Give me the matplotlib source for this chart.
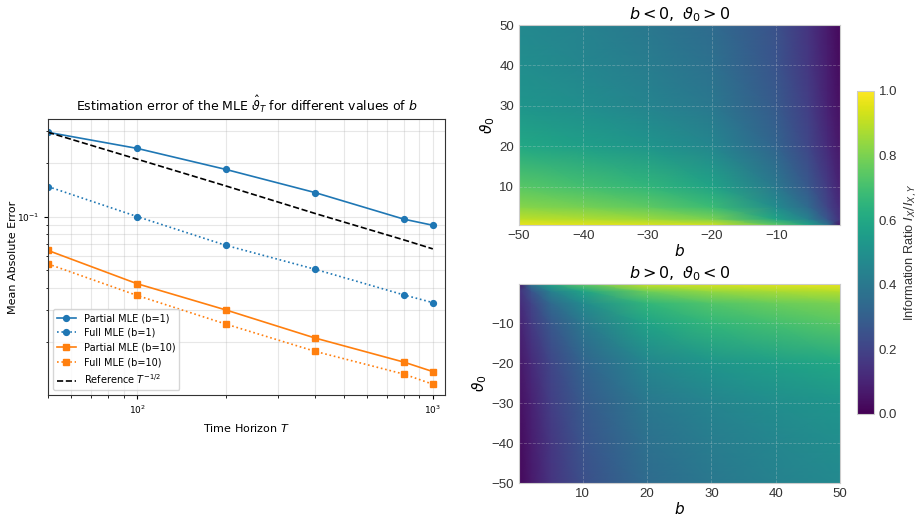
import numpy as np
import matplotlib
matplotlib.use("Agg")
import matplotlib.pyplot as plt

# ---- left panel: estimation error vs time horizon ----
T = [50, 100, 200, 400, 800, 1000]
partial_b1 = [0.295, 0.240, 0.183, 0.136, 0.0966, 0.0894]
full_b1 = [0.147, 0.100, 0.069, 0.0508, 0.0365, 0.0331]
partial_b10 = [0.0647, 0.0422, 0.0301, 0.0210, 0.0154, 0.01365]
full_b10 = [0.0544, 0.0363, 0.0251, 0.0177, 0.0132, 0.0116]
reference = [0.295, 0.209, 0.148, 0.104, 0.074, 0.066]

# ---- right panels: information ratio grids ----
b_neg = [-50, -40, -30, -20, -10, -5, -2, -0.1]
theta_pos = [0.5, 2, 5, 10, 20, 30, 40, 50]
ratio_top = [
    [0.97, 0.96, 0.95, 0.93, 0.75, 0.58, 0.38, 0.05],
    [0.90, 0.88, 0.85, 0.80, 0.58, 0.43, 0.26, 0.14],
    [0.82, 0.79, 0.75, 0.68, 0.48, 0.34, 0.20, 0.12],
    [0.74, 0.70, 0.66, 0.58, 0.40, 0.27, 0.17, 0.09],
    [0.60, 0.56, 0.52, 0.46, 0.32, 0.21, 0.12, 0.06],
    [0.52, 0.49, 0.45, 0.40, 0.28, 0.18, 0.09, 0.04],
    [0.49, 0.46, 0.42, 0.37, 0.26, 0.16, 0.08, 0.03],
    [0.47, 0.44, 0.40, 0.35, 0.25, 0.15, 0.07, 0.02],
]

b_pos = [0.1, 2, 5, 10, 20, 30, 40, 50]
theta_neg = [-50, -40, -30, -20, -10, -5, -2, -0.2]
ratio_bottom = [
    [0.02, 0.07, 0.15, 0.24, 0.35, 0.40, 0.44, 0.47],
    [0.03, 0.08, 0.16, 0.26, 0.37, 0.42, 0.46, 0.49],
    [0.04, 0.09, 0.18, 0.28, 0.40, 0.45, 0.49, 0.52],
    [0.06, 0.12, 0.21, 0.32, 0.46, 0.52, 0.56, 0.60],
    [0.09, 0.17, 0.27, 0.40, 0.58, 0.66, 0.70, 0.74],
    [0.12, 0.20, 0.34, 0.48, 0.66, 0.73, 0.77, 0.80],
    [0.14, 0.26, 0.43, 0.58, 0.78, 0.84, 0.87, 0.89],
    [0.05, 0.38, 0.58, 0.75, 0.93, 0.95, 0.96, 0.97],
]

fig = plt.figure(figsize=(9.18, 5.21), dpi=100)

# left plot
ax = fig.add_axes([0.0523, 0.2418, 0.4325, 0.5298])
ax.loglog(T, partial_b1, "-o", color="#1f77b4", lw=1.2, ms=4.2, label="Partial MLE (b=1)")
ax.loglog(T, full_b1, ":o", color="#1f77b4", lw=1.2, ms=4.2, label="Full MLE (b=1)")
ax.loglog(T, partial_b10, "-s", color="#ff7f0e", lw=1.2, ms=4.2, label="Partial MLE (b=10)")
ax.loglog(T, full_b10, ":s", color="#ff7f0e", lw=1.2, ms=4.2, label="Full MLE (b=10)")
ax.loglog(T, reference, "--", color="black", lw=1.2, label=r"Reference $T^{-1/2}$")
ax.set_xlim(50, 1100)
ax.set_ylim(0.0101, 0.35)
ax.grid(True, which="both", alpha=0.3)
ax.set_xlabel(r"Time Horizon $T$", fontsize=8)
ax.set_ylabel("Mean Absolute Error", fontsize=8)
ax.yaxis.set_label_coords(-0.076, 0.5)
ax.set_title(r"Estimation error of the MLE $\hat{\vartheta}_T$ for different values of $b$", fontsize=9)
ax.tick_params(which="major", labelsize=6.5, length=3)
ax.tick_params(which="minor", length=1.8)
for s in ax.spines.values():
    s.set_color("#333333")
ax.legend(loc="lower left", fontsize=7, frameon=True)


def style_heat(h):
    for s in h.spines.values():
        s.set_color("#cccccc")
    h.tick_params(length=0, labelsize=9.5, colors="#333333")
    for lab in h.get_xticklabels() + h.get_yticklabels():
        lab.set_family("Liberation Sans")
    h.grid(True, color="#dddddd", linestyle="--", linewidth=0.6, alpha=0.3)


# top heatmap
ax1 = fig.add_axes([0.5654, 0.5681, 0.3497, 0.3839])
m1 = ax1.pcolormesh(b_neg, theta_pos, np.array(ratio_top), shading="gouraud",
                    cmap="viridis", vmin=0, vmax=1)
ax1.set_xticks([-50, -40, -30, -20, -10])
ax1.set_yticks([10, 20, 30, 40, 50])
ax1.set_title(r"$b < 0,\ \vartheta_0 > 0$", fontsize=11.5, pad=4)
ax1.set_xlabel(r"$b$", fontsize=11, labelpad=1)
ax1.set_ylabel(r"$\vartheta_0$", fontsize=11, labelpad=2)
style_heat(ax1)

# bottom heatmap
ax2 = fig.add_axes([0.5654, 0.0729, 0.3497, 0.382])
ax2.pcolormesh(b_pos, theta_neg, np.array(ratio_bottom), shading="gouraud",
               cmap="viridis", vmin=0, vmax=1)
ax2.set_xticks([10, 20, 30, 40, 50])
ax2.set_yticks([-50, -40, -30, -20, -10])
ax2.set_title(r"$b > 0,\ \vartheta_0 < 0$", fontsize=11.5, pad=4)
ax2.set_xlabel(r"$b$", fontsize=11, labelpad=1)
ax2.set_ylabel(r"$\vartheta_0$", fontsize=11, labelpad=2)
style_heat(ax2)

# colorbar
cax = fig.add_axes([0.9336, 0.2054, 0.0185, 0.62])
cb = fig.colorbar(m1, cax=cax)
cb.set_ticks([0.0, 0.2, 0.4, 0.6, 0.8, 1.0])
cb.outline.set_edgecolor("#cccccc")
cax.tick_params(length=0, labelsize=9.5, colors="#333333")
for lab in cax.get_yticklabels():
    lab.set_family("Liberation Sans")
cb.set_label(r"Information Ratio $I_X / I_{X,Y}$", fontsize=9.2, family="Liberation Sans",
             color="#333333", labelpad=4)

fig.savefig("out.png", dpi=100)
